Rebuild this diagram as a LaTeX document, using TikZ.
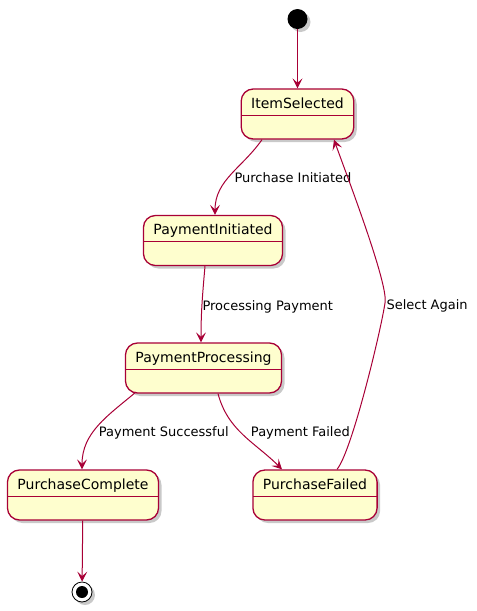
\documentclass[tikz,border=0pt]{standalone}
\usepackage{fontspec}
\setmainfont{DejaVu Sans}
\usetikzlibrary{arrows.meta}
\usetikzlibrary{shadows}

\definecolor{umlred}{HTML}{A80036}
\definecolor{umlfill}{HTML}{FEFECE}

\begin{document}
\begin{tikzpicture}[x=1pt, y=-1pt]
   \tikzset{StateStyle/.style={draw=umlred, fill=umlfill, line width=1.3pt, rounded corners=12pt,
      inner xsep=10pt, inner ysep=4pt, text height=15pt, text depth=27pt,
      font=\fontsize{14}{16}\selectfont,
      drop shadow={shadow xshift=3pt, shadow yshift=-3pt, opacity=.3, fill=black!70},
      path picture={\draw[umlred, line width=1pt] ([yshift=-1pt]path picture bounding box.west)
         -- ([yshift=-1pt]path picture bounding box.east);}}}
   \tikzset{StartStyle/.style={circle, fill=black, inner sep=0pt, minimum size=20pt,
      drop shadow={shadow xshift=3pt, shadow yshift=-3pt, opacity=.3, fill=black!70}}}
   \tikzset{StopStyle/.style={circle, draw=black, fill=white, line width=.8pt, inner sep=0pt,
      minimum size=20pt,
      drop shadow={shadow xshift=3pt, shadow yshift=-3pt, opacity=.3, fill=black!70},
      path picture={\fill[black] (path picture bounding box.center) circle (6pt);}}}
   \tikzset{EdgeStyle/.style={draw=umlred, line width=1pt, -{Stealth[length=10pt,width=10pt,inset=4.5pt]}}}
   \tikzset{LabelStyle/.style={font=\fontsize{13}{15}\selectfont, inner sep=0pt, anchor=west}}
   \useasboundingbox (0,0) rectangle (477,611);
   \node[StartStyle] (start) at (297.5,19) {};
   \node[StateStyle] (selected) at (297.5,114) {ItemSelected};
   \node[StateStyle] (initiated) at (213,240.5) {PaymentInitiated};
   \node[StateStyle] (processing) at (203.5,368) {PaymentProcessing};
   \node[StateStyle] (complete) at (83,495) {PurchaseComplete};
   \node[StateStyle] (failed) at (315,495) {PurchaseFailed};
   \node[StopStyle] (stop) at (82,592) {};
   \coordinate (again) at (385,303);
   \draw[EdgeStyle] (start) -- (selected);
   \draw[EdgeStyle] ([xshift=-35.5pt]selected.south) to[out=-125,in=90]
      node[LabelStyle, xshift=3pt, yshift=-3pt] (lbl1) {Purchase Initiated} ([xshift=2pt]initiated.north);
   \draw[EdgeStyle] ([xshift=-8pt]initiated.south) to[out=-95,in=90]
      node[LabelStyle, yshift=-3pt] (lbl2) {Processing Payment} ([xshift=-2.5pt]processing.north);
   \draw[EdgeStyle] ([xshift=11pt,yshift=1.5pt]processing.south west) to[out=-140,in=90]
      node[LabelStyle, yshift=-7pt] (lbl3) {Payment Successful} ([xshift=-1pt]complete.north);
   \draw[EdgeStyle] ([xshift=14.5pt]processing.south) to[out=-75,in=135]
      node[LabelStyle, xshift=7pt, yshift=2pt] (lbl4) {Payment Failed} ([xshift=-33pt]failed.north);
   \draw[EdgeStyle] ([xshift=22pt]failed.north) .. controls +(15,-18) and +(-4,27) .. (again)
      node[LabelStyle, xshift=1pt, yshift=-3pt] (lbl5) {Select Again}
      .. controls +(4,-18) and +(11,31) .. ([xshift=36.5pt]selected.south);
   \draw[EdgeStyle] (complete) -- (stop);
\end{tikzpicture}
\end{document}
